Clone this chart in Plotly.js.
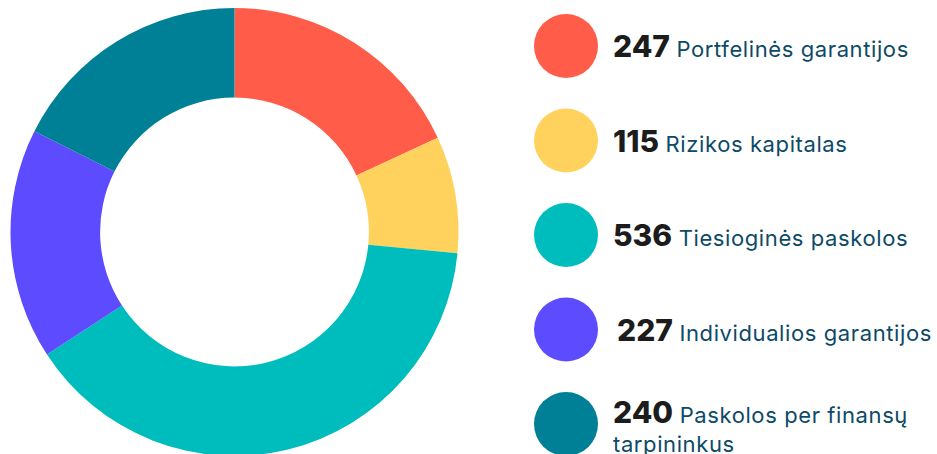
<!DOCTYPE html>
<html>
<head>
<meta charset="utf-8">
<script src="https://cdn.plot.ly/plotly-3.0.1.min.js"></script>
<style>
html,body{margin:0;padding:0;overflow:hidden;background:#fff;}
#chart{width:937px;height:458px;}
</style>
</head>
<body>
<div id="chart"></div>
<script>
var categories = ["Portfelinės garantijos", "Rizikos kapitalas", "Tiesioginės paskolos", "Individualios garantijos", "Paskolos per finansų<br>tarpininkus"];
var values = [247, 115, 536, 227, 240];
var colors = ["#FF5C49", "#FED25C", "#00BDBD", "#5C4BFF", "#008096"];

var W = 937, H = 458;
function px(x){ return x / W; }
function py(y){ return 1 - y / H; }

var trace = {
  type: "pie",
  values: values,
  labels: categories,
  sort: false,
  direction: "clockwise",
  rotation: 0,
  hole: 0.6,
  textinfo: "none",
  hoverinfo: "none",
  showlegend: false,
  marker: { colors: colors, line: { width: 0 } },
  domain: { x: [px(10.5), px(458.5)], y: [py(456), py(8)] }
};

var shapes = [], annotations = [];
var rowTop = 46, rowStep = 94.5, r = 32, cx = 566;
for (var i = 0; i < values.length; i++) {
  var cy = rowTop + i * rowStep;
  shapes.push({
    type: "circle", xref: "paper", yref: "paper",
    x0: px(cx - r), x1: px(cx + r), y0: py(cy + r), y1: py(cy - r),
    fillcolor: colors[i], line: { width: 0 }
  });
  var labelHtml = categories[i].split("<br>").map(function(s){
    return '<span style="letter-spacing:0.6px">' + s + '</span>';
  }).join("<br>");
  annotations.push({
    xref: "paper", yref: "paper",
    x: px(i === 3 ? 615 : 611), y: py(cy + (i === 4 ? 1 : 0)),
    xanchor: "left", yanchor: "middle", align: "left",
    showarrow: false,
    text: '<span style="font-size:30px;font-weight:800;fill:#1C1C1C">' + values[i] + ' </span>' + labelHtml,
    font: { family: "Inter, 'Noto Sans', sans-serif", size: 22, color: "#0D4A66" }
  });
}

var layout = {
  width: W, height: H,
  margin: { l: 0, r: 0, t: 0, b: 0 },
  paper_bgcolor: "#ffffff",
  plot_bgcolor: "#ffffff",
  shapes: shapes,
  annotations: annotations
};

Plotly.newPlot("chart", [trace], layout, { displayModeBar: false, staticPlot: true });
</script>
</body>
</html>
